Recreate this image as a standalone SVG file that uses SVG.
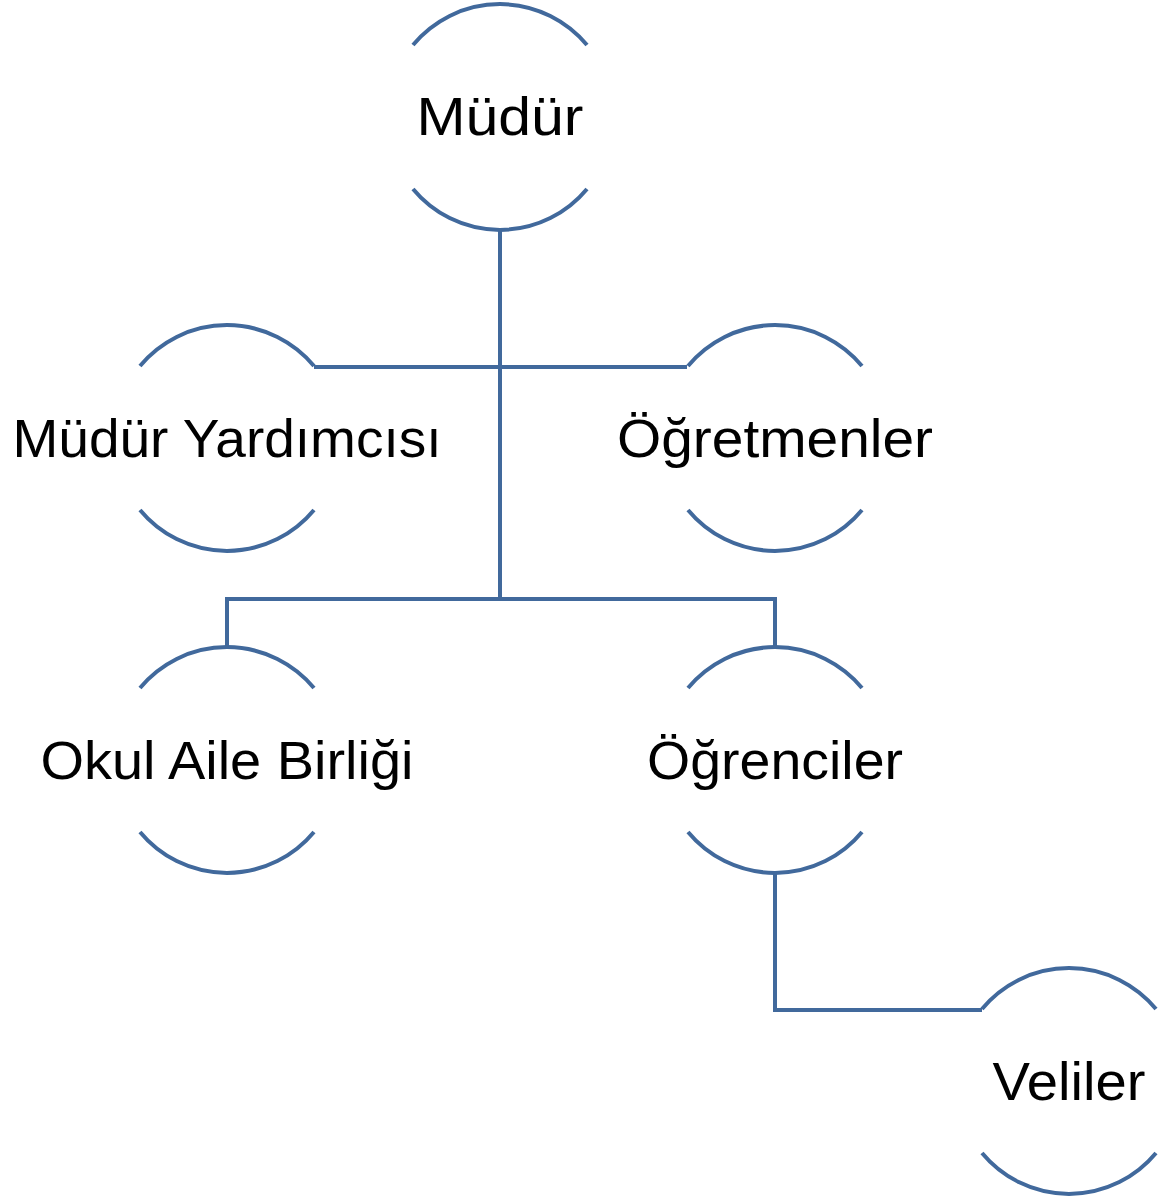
<svg xmlns="http://www.w3.org/2000/svg" width="1165" height="1201" viewBox="0 0 1165 1201">
<style>
.arc{fill:none;stroke:#41699c;stroke-width:4}
.con{fill:none;stroke:#41699c;stroke-width:4;stroke-linejoin:miter}
.lbl{font-family:"Liberation Sans",Arial,sans-serif;font-size:53px;fill:#000;text-anchor:middle}
</style>
<rect width="1165" height="1201" fill="#fff"/>
<g id="connectors">
<path class="con" d="M500,230 V599"/>
<path class="con" d="M314,367 H687"/>
<path class="con" d="M227,647 V599 H775 V647"/>
<path class="con" d="M775,873 V1010 H982"/>
</g>
<g id="n-mudur">
<path class="arc" d="M413,45 A113,113 0 0 1 587,45"/>
<path class="arc" d="M413,189 A113,113 0 0 0 587,189"/>
<text class="lbl" x="500" y="135" textLength="167" lengthAdjust="spacingAndGlyphs">Müdür</text>
</g>
<g id="n-yardimcisi">
<path class="arc" d="M140,366 A113,113 0 0 1 314,366"/>
<path class="arc" d="M140,510 A113,113 0 0 0 314,510"/>
<text class="lbl" x="227" y="457" textLength="429" lengthAdjust="spacingAndGlyphs">Müdür Yardımcısı</text>
</g>
<g id="n-ogretmenler">
<path class="arc" d="M688,366 A113,113 0 0 1 862,366"/>
<path class="arc" d="M688,510 A113,113 0 0 0 862,510"/>
<text class="lbl" x="775" y="457" textLength="316" lengthAdjust="spacingAndGlyphs">Öğretmenler</text>
</g>
<g id="n-okul">
<path class="arc" d="M140,688 A113,113 0 0 1 314,688"/>
<path class="arc" d="M140,832 A113,113 0 0 0 314,832"/>
<text class="lbl" x="227" y="779" textLength="373" lengthAdjust="spacingAndGlyphs">Okul Aile Birliği</text>
</g>
<g id="n-ogrenciler">
<path class="arc" d="M688,688 A113,113 0 0 1 862,688"/>
<path class="arc" d="M688,832 A113,113 0 0 0 862,832"/>
<text class="lbl" x="775" y="779" textLength="256" lengthAdjust="spacingAndGlyphs">Öğrenciler</text>
</g>
<g id="n-veliler">
<path class="arc" d="M982,1009 A113,113 0 0 1 1156,1009"/>
<path class="arc" d="M982,1153 A113,113 0 0 0 1156,1153"/>
<text class="lbl" x="1069" y="1100" textLength="153" lengthAdjust="spacingAndGlyphs">Veliler</text>
</g>
</svg>
